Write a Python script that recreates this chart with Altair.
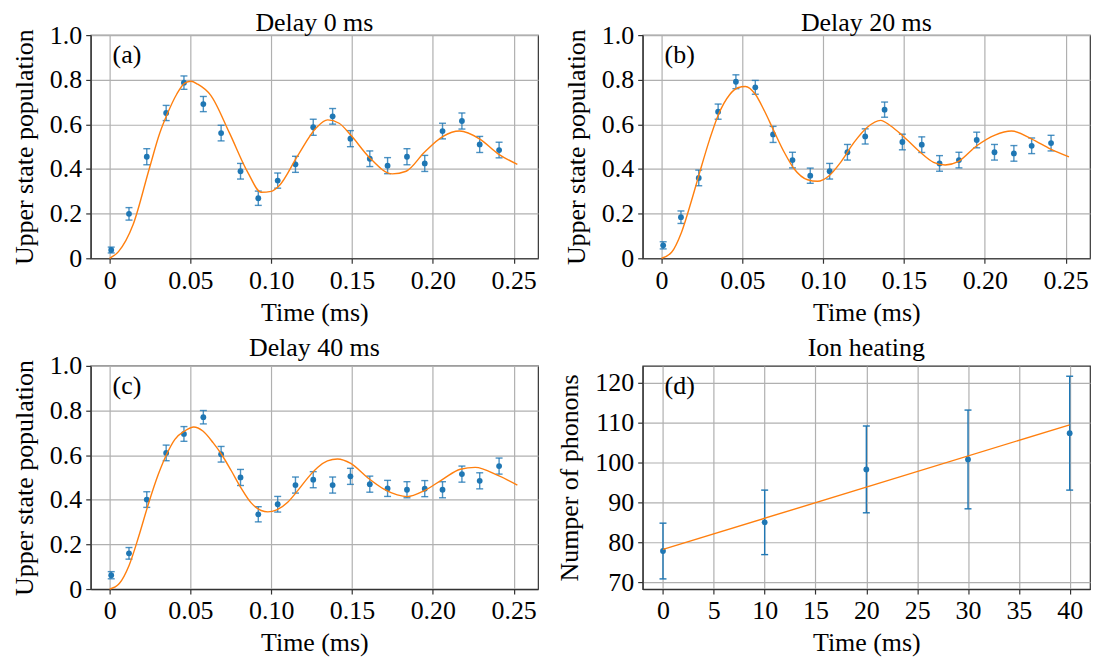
import altair as alt
import pandas as pd

FONT = "Liberation Serif, Times New Roman, DejaVu Serif, serif"
FS = 26
BLUE = "#1f77b4"
ORANGE = "#ff7f0e"

# measurement times (ms)
times = [0.001, 0.012, 0.023, 0.035, 0.046, 0.058, 0.069, 0.081, 0.092, 0.104, 0.115,
         0.126, 0.138, 0.149, 0.161, 0.172, 0.184, 0.195, 0.206, 0.218, 0.229, 0.241]

# (a) Delay 0 ms
pop_a = [0.037, 0.199, 0.455, 0.651, 0.787, 0.691, 0.561, 0.390, 0.269, 0.348, 0.421,
         0.587, 0.636, 0.536, 0.446, 0.415, 0.455, 0.425, 0.570, 0.615, 0.510, 0.485]
err_a = [0.013, 0.028, 0.036, 0.034, 0.030, 0.034, 0.035, 0.035, 0.032, 0.034, 0.036,
         0.036, 0.035, 0.036, 0.035, 0.036, 0.036, 0.036, 0.035, 0.036, 0.036, 0.035]
fit_a_t = [0, 0.0055, 0.0145, 0.0245, 0.031, 0.0356, 0.0415, 0.0465, 0.0503, 0.0545, 0.0626,
           0.074, 0.0855, 0.0938, 0.1, 0.1049, 0.1164, 0.1279, 0.1349, 0.142, 0.1492,
           0.1607, 0.1749, 0.1835, 0.1948, 0.2063, 0.2165, 0.2291, 0.2406, 0.2523]
fit_a_v = [0, 0.03, 0.15, 0.40, 0.56, 0.645, 0.735, 0.785, 0.793, 0.78, 0.73,
           0.564, 0.385, 0.296, 0.30, 0.325, 0.46, 0.585, 0.620, 0.605, 0.552,
           0.452, 0.378, 0.39, 0.475, 0.546, 0.570, 0.534, 0.467, 0.421]

# (b) Delay 20 ms
pop_b = [0.058, 0.184, 0.360, 0.657, 0.791, 0.766, 0.555, 0.440, 0.370, 0.390, 0.475,
         0.546, 0.666, 0.521, 0.509, 0.425, 0.440, 0.530, 0.475, 0.470, 0.504, 0.516]
err_b = [0.016, 0.028, 0.035, 0.034, 0.031, 0.031, 0.036, 0.035, 0.034, 0.035, 0.035,
         0.034, 0.034, 0.035, 0.035, 0.035, 0.035, 0.035, 0.035, 0.035, 0.035, 0.035]
fit_b_t = [0, 0.0062, 0.0123, 0.0185, 0.0236, 0.0298, 0.0349, 0.0421, 0.0472, 0.0519, 0.0579,
           0.0636, 0.0694, 0.0759, 0.0821, 0.0903, 0.0965, 0.1037, 0.1108, 0.1191, 0.1273,
           0.1355, 0.1416, 0.1492, 0.1601, 0.1683, 0.1755, 0.1835, 0.1950, 0.2063, 0.2165,
           0.2291, 0.2405, 0.2521]
fit_b_v = [0, 0.027, 0.116, 0.258, 0.385, 0.534, 0.639, 0.733, 0.764, 0.770, 0.736,
           0.661, 0.572, 0.475, 0.400, 0.352, 0.345, 0.370, 0.430, 0.519, 0.587,
           0.618, 0.594, 0.549, 0.475, 0.430, 0.418, 0.433, 0.504, 0.552, 0.570,
           0.534, 0.490, 0.454]

# (c) Delay 40 ms
pop_c = [0.062, 0.160, 0.401, 0.610, 0.695, 0.770, 0.604, 0.500, 0.335, 0.380, 0.466,
         0.490, 0.466, 0.505, 0.470, 0.451, 0.445, 0.450, 0.445, 0.515, 0.485, 0.551]
err_c = [0.016, 0.026, 0.035, 0.035, 0.033, 0.030, 0.035, 0.036, 0.034, 0.035, 0.036,
         0.036, 0.036, 0.036, 0.036, 0.036, 0.036, 0.036, 0.036, 0.036, 0.036, 0.036]
fit_c_t = [0, 0.0060, 0.0121, 0.0179, 0.0240, 0.0302, 0.0353, 0.0404, 0.0464, 0.0521, 0.0577,
           0.0640, 0.0692, 0.0753, 0.0815, 0.0876, 0.0938, 0.0979, 0.1034, 0.1102, 0.1164,
           0.1246, 0.1287, 0.1348, 0.1410, 0.1492, 0.1595, 0.1697, 0.1780, 0.1841, 0.1948,
           0.2063, 0.2170, 0.2262, 0.2406, 0.2523]
fit_c_v = [0, 0.025, 0.107, 0.233, 0.381, 0.515, 0.604, 0.671, 0.708, 0.726, 0.708,
           0.656, 0.604, 0.530, 0.451, 0.386, 0.352, 0.346, 0.355, 0.389, 0.441,
           0.515, 0.545, 0.574, 0.583, 0.563, 0.500, 0.448, 0.422, 0.414, 0.441,
           0.493, 0.537, 0.545, 0.508, 0.466]

# (d) Ion heating
heat_t = [0, 10, 20, 30, 40]
heat_n = [77.8, 85.0, 98.3, 100.8, 107.4]
heat_e = [7.0, 8.1, 10.9, 12.4, 14.3]
heat_fit_t = [0, 40]
heat_fit_n = [78.2, 109.5]

pop_xticks = [0, 0.05, 0.10, 0.15, 0.20, 0.25]
pop_yticks = [0, 0.2, 0.4, 0.6, 0.8, 1.0]
heat_xticks = [0, 5, 10, 15, 20, 25, 30, 35, 40]
heat_yticks = [70, 80, 90, 100, 110, 120]

W, H = 449, 224


def panel(title, label, pt_t, pt_v, pt_e, fit_t, fit_v, xdom, ydom, xticks, yticks,
          xexpr, yexpr, ytitle, bar_opacity, title_offset):
    pts = pd.DataFrame({"t": pt_t, "v": pt_v,
                        "lo": [v - e for v, e in zip(pt_v, pt_e)],
                        "hi": [v + e for v, e in zip(pt_v, pt_e)]})
    fit = pd.DataFrame({"t": fit_t, "v": fit_v})
    xs = alt.Scale(domain=xdom, nice=False, zero=False)
    ys = alt.Scale(domain=ydom, nice=False, zero=False)
    xax = alt.Axis(values=xticks, labelExpr=xexpr, title="Time (ms)")
    yax = alt.Axis(values=yticks, labelExpr=yexpr, title=ytitle)

    def X():
        return alt.X("t:Q", scale=xs, axis=xax)

    def Y(f):
        return alt.Y(f + ":Q", scale=ys, axis=yax)

    base = alt.Chart(pts)
    bars = base.mark_rule(color=BLUE, opacity=bar_opacity, strokeWidth=1.4).encode(
        x=X(), y=Y("lo"), y2="hi:Q")
    cap_hi = base.mark_tick(orient="horizontal", color=BLUE, opacity=bar_opacity,
                            size=7, thickness=1.4).encode(x=X(), y=Y("hi"))
    cap_lo = base.mark_tick(orient="horizontal", color=BLUE, opacity=bar_opacity,
                            size=7, thickness=1.4).encode(x=X(), y=Y("lo"))
    dots = base.mark_circle(size=34, color=BLUE, opacity=1).encode(x=X(), y=Y("v"))
    line = alt.Chart(fit).mark_line(color=ORANGE, strokeWidth=1.4,
                                    interpolate="monotone").encode(x=X(), y=Y("v"))
    txt = alt.Chart(pd.DataFrame({"s": [label]})).mark_text(
        align="left", baseline="middle", font=FONT, fontSize=FS, color="black"
    ).encode(x=alt.value(22), y=alt.value(20), text="s:N")
    return alt.layer(bars, cap_hi, cap_lo, dots, line, txt).properties(
        width=W, height=H,
        title=alt.TitleParams(title, offset=title_offset))


pexpr_x = "datum.value == 0 ? '0' : format(datum.value, '.2f')"
pexpr_y = "datum.value == 0 ? '0' : format(datum.value, '.1f')"
hexpr = "format(datum.value, 'd')"
pdom = [-0.0117, 0.2651]

pa = panel("Delay 0 ms", "(a)", times, pop_a, err_a, fit_a_t, fit_a_v, pdom, [0, 1],
           pop_xticks, pop_yticks, pexpr_x, pexpr_y, "Upper state population", 0.8, -14)
pb = panel("Delay 20 ms", "(b)", times, pop_b, err_b, fit_b_t, fit_b_v, pdom, [0, 1],
           pop_xticks, pop_yticks, pexpr_x, pexpr_y, "Upper state population", 0.8, -14)
pc = panel("Delay 40 ms", "(c)", times, pop_c, err_c, fit_c_t, fit_c_v, pdom, [0, 1],
           pop_xticks, pop_yticks, pexpr_x, pexpr_y, "Upper state population", 0.8, -8)
pd_ = panel("Ion heating", "(d)", heat_t, heat_n, heat_e, heat_fit_t, heat_fit_n,
            [-2, 42], [68.25, 124.3], heat_xticks, heat_yticks, hexpr, hexpr,
            "Numper of phonons", 1.0, 5)

chart = alt.concat(pa, pb, pc, pd_, columns=2, spacing={"row": 108, "column": 105},
                   bounds="flush").properties(
    padding={"left": 2, "top": 0, "right": 0, "bottom": 0}
).configure_axis(
    labelFont=FONT, labelFontSize=FS, titleFont=FONT, titleFontSize=FS,
    titleFontWeight="normal", labelColor="black", titleColor="black",
    gridColor="#b0b0b0", gridWidth=1.2, domainColor="#333333", domainWidth=1.2,
    tickColor="#333333", tickSize=5, tickWidth=1.2, labelPadding=4,
    labelFlush=False, labelOverlap=False
).configure_axisX(titlePadding=6).configure_axisY(titlePadding=12).configure_view(
    stroke="#333333", strokeWidth=1.2
).configure_title(
    font=FONT, fontSize=FS, fontWeight="normal", color="black"
)

chart.save("out.html", embed_options={"renderer": "svg", "actions": False})
